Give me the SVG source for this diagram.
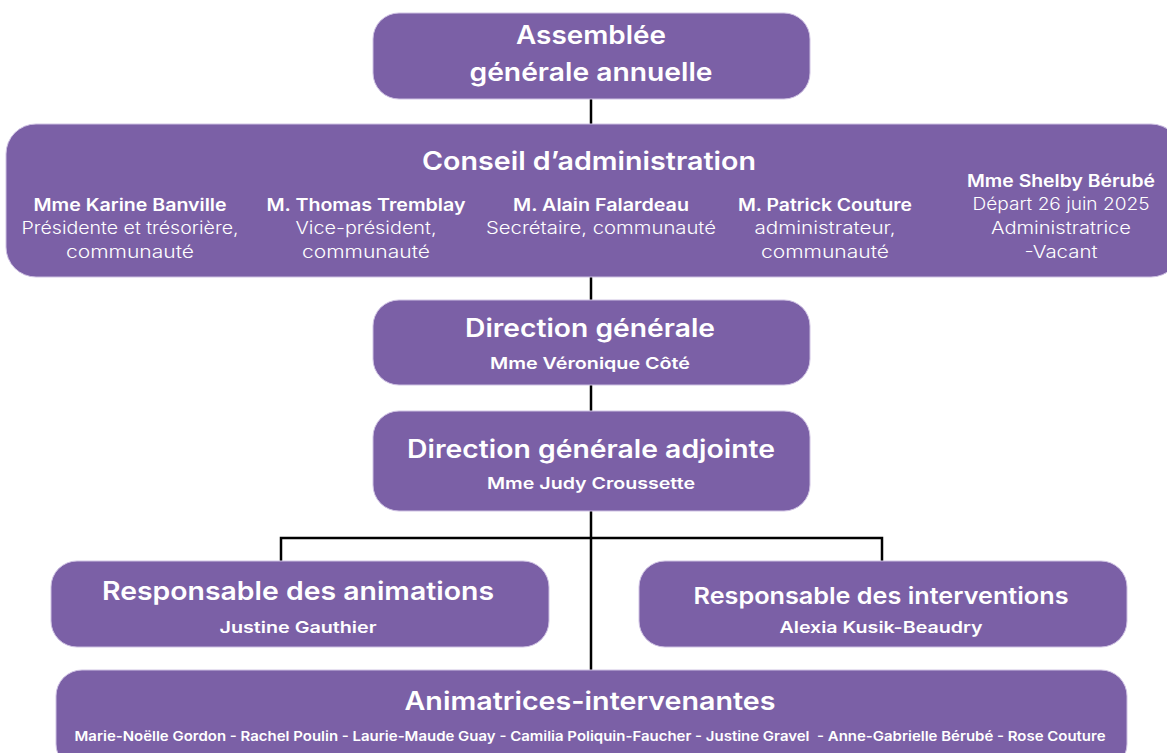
<svg xmlns="http://www.w3.org/2000/svg" width="1167" height="753" viewBox="0 0 1167 753">
<style>
.box{fill:#7b60a6;stroke:#cfc2e3;stroke-width:1}
text{font-family:Inter,"Open Sans","Noto Sans",sans-serif;fill:#ffffff;text-anchor:middle}
.t{font-size:25px;font-weight:600}
.s{font-size:16px;font-weight:600}
.mb{font-size:17px;font-weight:600}
.mr{font-size:17px;font-weight:300}
.n{font-size:13.5px;font-weight:600}
.c{fill:none;stroke:#000;stroke-width:2.5}
</style>
<rect width="1167" height="753" fill="#fff"/>
<g id="connectors">
<path class="c" d="M591 99V124M591 277V300M591 385V411M591 511V670M281 561V538H882V561"/>
</g>
<g id="assemblee">
<rect class="box" x="373" y="13" width="437" height="86" rx="26"/>
<text class="t" x="591" y="44" textLength="150" lengthAdjust="spacingAndGlyphs">Assemblée</text>
<text class="t" x="591" y="81" textLength="243" lengthAdjust="spacingAndGlyphs">générale annuelle</text>
</g>
<g id="conseil">
<rect class="box" x="6" y="124" width="1175" height="153" rx="30"/>
<text class="t" x="589" y="170" textLength="334" lengthAdjust="spacingAndGlyphs">Conseil d’administration</text>
<text class="mb" x="130" y="211" textLength="193" lengthAdjust="spacingAndGlyphs">Mme Karine Banville</text>
<text class="mr" x="130" y="234" textLength="217" lengthAdjust="spacingAndGlyphs">Présidente et trésorière,</text>
<text class="mr" x="130" y="258" textLength="128" lengthAdjust="spacingAndGlyphs">communauté</text>
<text class="mb" x="366" y="211" textLength="199" lengthAdjust="spacingAndGlyphs">M. Thomas Tremblay</text>
<text class="mr" x="366" y="234" textLength="141" lengthAdjust="spacingAndGlyphs">Vice-président,</text>
<text class="mr" x="366" y="258" textLength="128" lengthAdjust="spacingAndGlyphs">communauté</text>
<text class="mb" x="601" y="211" textLength="176" lengthAdjust="spacingAndGlyphs">M. Alain Falardeau</text>
<text class="mr" x="601" y="234" textLength="230" lengthAdjust="spacingAndGlyphs">Secrétaire, communauté</text>
<text class="mb" x="825" y="211" textLength="174" lengthAdjust="spacingAndGlyphs">M. Patrick Couture</text>
<text class="mr" x="825" y="234" textLength="141" lengthAdjust="spacingAndGlyphs">administrateur,</text>
<text class="mr" x="825" y="258" textLength="128" lengthAdjust="spacingAndGlyphs">communauté</text>
<text class="mb" x="1061" y="187" textLength="188" lengthAdjust="spacingAndGlyphs">Mme Shelby Bérubé</text>
<text class="mr" x="1061" y="210" textLength="177" lengthAdjust="spacingAndGlyphs">Départ 26 juin 2025</text>
<text class="mr" x="1061" y="234" textLength="140" lengthAdjust="spacingAndGlyphs">Administratrice</text>
<text class="mr" x="1061" y="258" textLength="73" lengthAdjust="spacingAndGlyphs">-Vacant</text>
</g>
<g id="direction">
<rect class="box" x="373" y="300" width="437" height="85" rx="26"/>
<text class="t" x="590" y="337" textLength="250" lengthAdjust="spacingAndGlyphs">Direction générale</text>
<text class="s" x="590" y="369" textLength="200" lengthAdjust="spacingAndGlyphs">Mme Véronique Côté</text>
</g>
<g id="adjointe">
<rect class="box" x="373" y="411" width="437" height="100" rx="26"/>
<text class="t" x="591" y="458" textLength="368" lengthAdjust="spacingAndGlyphs">Direction générale adjointe</text>
<text class="s" x="591" y="489" textLength="208" lengthAdjust="spacingAndGlyphs">Mme Judy Croussette</text>
</g>
<g id="animations">
<rect class="box" x="51" y="561" width="498" height="86" rx="26"/>
<text class="t" x="298" y="600" textLength="392" lengthAdjust="spacingAndGlyphs">Responsable des animations</text>
<text class="s" x="298" y="633" textLength="157" lengthAdjust="spacingAndGlyphs">Justine Gauthier</text>
</g>
<g id="interventions">
<rect class="box" x="639" y="561" width="488" height="86" rx="26"/>
<text class="t" x="881" y="604" textLength="375" lengthAdjust="spacingAndGlyphs" style="font-size:23px">Responsable des interventions</text>
<text class="s" x="881" y="633" textLength="203" lengthAdjust="spacingAndGlyphs">Alexia Kusik-Beaudry</text>
</g>
<g id="animatrices">
<rect class="box" x="56" y="670" width="1071" height="100" rx="26"/>
<text class="t" x="590" y="710" textLength="371" lengthAdjust="spacingAndGlyphs">Animatrices-intervenantes</text>
<text class="n" x="590" y="741" textLength="1031" lengthAdjust="spacingAndGlyphs" xml:space="preserve">Marie-Noëlle Gordon - Rachel Poulin - Laurie-Maude Guay - Camilia Poliquin-Faucher - Justine Gravel  - Anne-Gabrielle Bérubé - Rose Couture</text>
</g>
</svg>
